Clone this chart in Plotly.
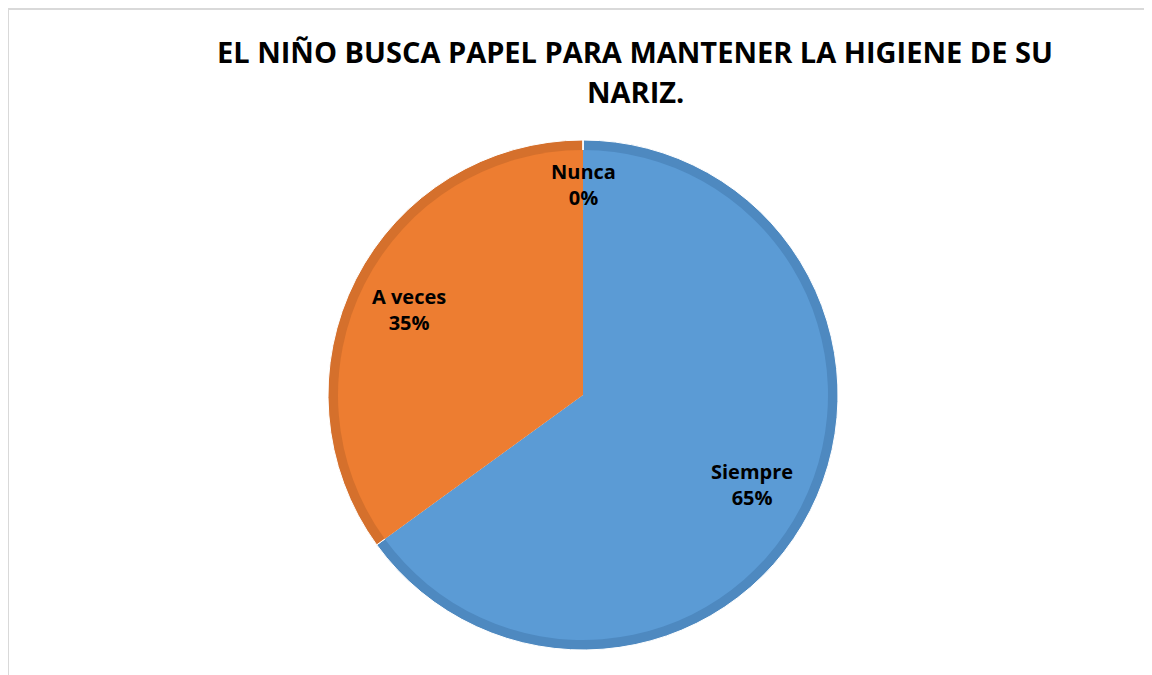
import plotly.graph_objects as go

labels = ["Siempre", "A veces", "Nunca"]
values = [65, 35, 0]
fill_colors = ["#5B9BD5", "#ED7D31", "#A5A5A5"]
edge_colors = ["#4E89C0", "#D5702C", "#939393"]
title_lines = ["EL NIÑO BUSCA PAPEL PARA MANTENER LA HIGIENE DE SU", "NARIZ."]
label_pos = [(752, 484), (409, 309), (583, 184)]

OFF = 8  # page body margin
W, H = 1152 - OFF, 675 - OFF
cx, cy, R, bevel = 583 - OFF, 395 - OFF, 255, 10

def dom(r):
    return dict(x=[(cx - r) / W, (cx + r) / W], y=[(H - cy - r) / H, (H - cy + r) / H])

fig = go.Figure()
fig.add_trace(go.Pie(labels=labels, values=values, sort=False, direction="clockwise", rotation=0,
                     marker=dict(colors=edge_colors, line=dict(color="white", width=1)),
                     textinfo="none", hoverinfo="label+percent", domain=dom(R), showlegend=False))
fig.add_trace(go.Pie(labels=labels, values=values, sort=False, direction="clockwise", rotation=0,
                     marker=dict(colors=fill_colors, line=dict(color="rgba(0,0,0,0)", width=0)),
                     textinfo="none", hoverinfo="label+percent", domain=dom(R - bevel), showlegend=False))

total = sum(values)
font_lab = dict(family="Open Sans", size=20, color="black")
for lab, v, (px, py) in zip(labels, values, label_pos):
    fig.add_annotation(x=(px - OFF) / W, y=(H - (py - OFF)) / H, xref="paper", yref="paper",
                       xanchor="center", yanchor="middle",
                       text=f"<b>{lab}<br>{round(100 * v / total)}%</b>", showarrow=False,
                       font=font_lab, align="center")

for line, ty in zip(title_lines, [52, 92]):
    fig.add_annotation(x=(635 - OFF) / W, y=(H - (ty - OFF)) / H, xref="paper", yref="paper",
                       xanchor="center", yanchor="middle",
                       text=f"<b>{line}</b>", showarrow=False,
                       font=dict(family="Open Sans", size=29, color="black"))

fig.add_shape(type="rect", xref="paper", yref="paper", x0=0, x1=1.02, y0=-0.02, y1=(H - 1) / H,
              line=dict(color="#D9D9D9", width=2), fillcolor="rgba(0,0,0,0)")

fig.update_layout(width=W, height=H, margin=dict(l=0, r=0, t=0, b=0),
                  paper_bgcolor="white", plot_bgcolor="white")
fig.write_html("out.html")
